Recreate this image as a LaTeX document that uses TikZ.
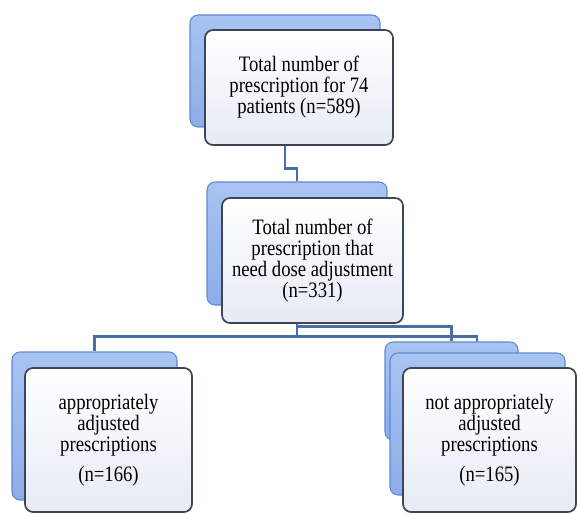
\documentclass[tikz,border=0pt]{standalone}
\usepackage{fontspec}
\setmainfont{Liberation Serif}[FakeStretch=0.85]
\usepackage{tikz}
\usetikzlibrary{backgrounds}

\definecolor{backblue}{HTML}{8CADE9}
\definecolor{backtop}{HTML}{A9C4F2}
\definecolor{backedge}{HTML}{5F88D4}
\definecolor{frontedge}{HTML}{3E4656}
\definecolor{frontlow}{HTML}{E6EBF4}
\definecolor{linkblue}{HTML}{4A6EA8}

\tikzset{
  backbox/.style={rounded corners=6pt, draw=backedge, line width=0.8pt,
    top color=backtop, bottom color=backblue, inner sep=0pt},
  frontbox/.style={rounded corners=6pt, draw=frontedge, line width=1.3pt,
    top color=white, bottom color=frontlow, inner sep=0pt, align=center,
    font=\fontsize{16.5}{15.75}\selectfont},
  link/.style={draw=linkblue, line width=2.2pt}
}

\begin{document}
\begin{tikzpicture}[x=0.75pt, y=-0.75pt]

\useasboundingbox (0,0) rectangle (577,513);

%
% Top level
%
\node[backbox, minimum width=142.5pt, minimum height=84pt] (topback) at (285,71) {};
\node[frontbox, minimum width=141pt, minimum height=86.25pt] (top) at (299,87.5)
  {Total number of\\prescription for 74\\patients (n=589)};

%
% Middle level
%
\node[backbox, minimum width=135pt, minimum height=92.25pt] (midback) at (297,243.5) {};
\node[frontbox, minimum width=135.75pt, minimum height=93.75pt] (mid) at (312.5,260.5)
  {Total number of\\prescription that\\need dose adjustment\\(n=331)};

%
% Left bottom
%
\node[backbox, minimum width=123.75pt, minimum height=111pt] (leftback) at (94.5,426) {};
\node[frontbox, minimum width=125.25pt, minimum height=108pt] (left) at (108.5,440)
  {appropriately\\adjusted\\prescriptions\\[7pt](n=166)};

%
% Right bottom
%
\node[backbox, minimum width=99.75pt, minimum height=73.5pt] (rightback) at (451.5,391) {};
\node[backbox, minimum width=131.25pt, minimum height=106.5pt] (rightmid) at (477.5,424) {};
\node[frontbox, minimum width=129.75pt, minimum height=108pt] (right) at (489.5,440)
  {not appropriately\\adjusted\\prescriptions\\[7pt](n=165)};

\coordinate (righthook) at (477,342);

% connectors
\begin{pgfonlayer}{background}
\draw[link] (topback.south) -- ++(0,41) -| (midback.north);
\draw[link] (midback.south) -- ++(0,31) -| (leftback.north);
\draw[link] (midback.south) -- ++(0,21) -| (rightback.north);
\draw[link] (midback.south) -- ++(0,31) -| (righthook);
\end{pgfonlayer}

\end{tikzpicture}
\end{document}
